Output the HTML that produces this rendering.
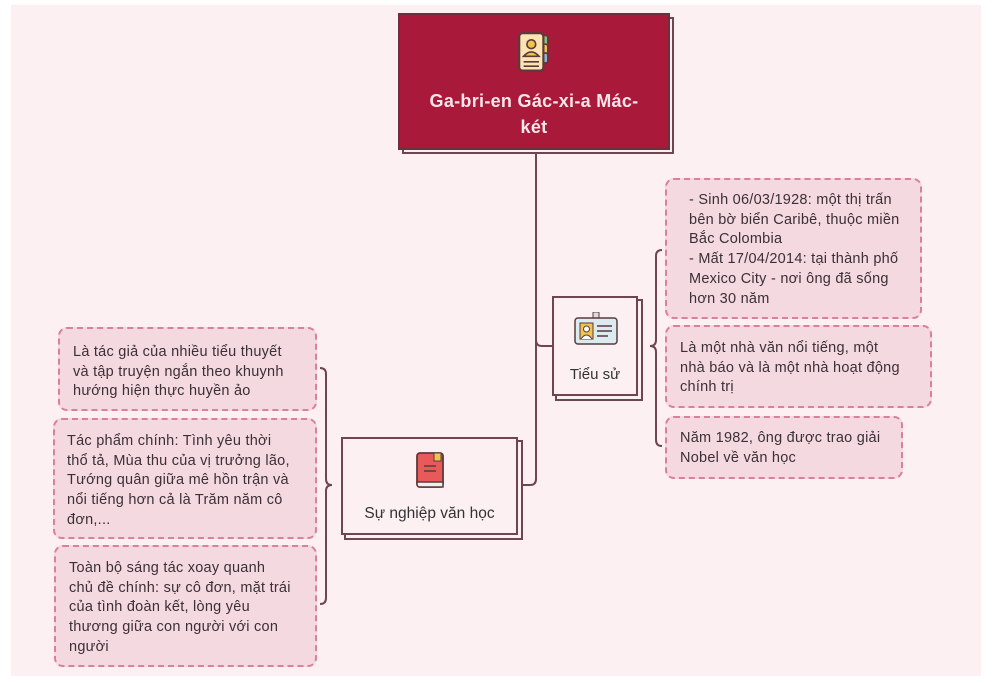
<!DOCTYPE html>
<html><head><meta charset="utf-8"><style>
*{margin:0;padding:0;box-sizing:border-box}
body{width:1002px;height:683px;background:#fff;position:relative;overflow:hidden;font-family:"Liberation Sans",sans-serif}
#bg{position:absolute;left:11px;top:5px;width:970px;height:671px;background:#fcf0f2}
.abs{position:absolute}
.node{position:absolute;background:#fcf0f2;border:2px solid #6e4550;box-shadow:4px 4px 0 -1px #fcf0f2,4px 4px 0 1px #6e4550;text-align:center;color:#333}
.leaf{position:absolute;background:#f5d9e0;border:2px dashed #d9809a;border-radius:9px;color:#3a3035;font-size:14.5px;letter-spacing:0.25px;line-height:19.7px;padding:9px 6px 0 12px;white-space:nowrap}
</style></head><body>
<div id="bg"></div>
<svg class="abs" style="left:0;top:0" width="1002" height="683">
<g fill="none" stroke="#6e4550" stroke-width="2">
<path d="M536 152 V479 Q536 485 530 485 H518"/>
<path d="M536 340 Q536 346 542 346 H552"/>
<path d="M662 250 Q656 250 656 256 V340 Q656 346 650 346 Q656 346 656 352 V440 Q656 446 662 446"/>
<path d="M320 368 Q326 368 326 374 V479 Q326 485 332 485 Q326 485 326 491 V598 Q326 604 320 604"/>
</g></svg>
<div class="abs" style="left:402px;top:17px;width:272px;height:137px;background:#fcf0f2;border:2px solid #6e4550"></div>
<div class="abs" style="left:398px;top:13px;width:272px;height:137px;background:#a8193a;border:2px solid #6e3040;text-align:center;color:#fbe6ea;font-weight:bold;font-size:18px;letter-spacing:0.3px;line-height:26px">
<svg style="position:absolute;left:117px;top:15px" width="44" height="46" viewBox="0 0 40 40"><rect x="20" y="4" width="8" height="9" rx="2" fill="#8cc47a" stroke="#5a3a3a" stroke-width="1.5"/><rect x="20" y="12" width="8" height="9" rx="2" fill="#f1c44e" stroke="#5a3a3a" stroke-width="1.5"/><rect x="20" y="20" width="8" height="9" rx="2" fill="#8fb8d8" stroke="#5a3a3a" stroke-width="1.5"/><rect x="2" y="2" width="22" height="34" rx="3" fill="#fbe3b4" stroke="#5a3a3a" stroke-width="2"/><circle cx="13" cy="12" r="4" fill="#f1c44e" stroke="#5a3a3a" stroke-width="1.5"/><path d="M6 23 Q13 15 20 23 Z" fill="#f1c44e" stroke="#5a3a3a" stroke-width="1.5"/><path d="M6 28 H20 M6 32 H20" stroke="#5a3a3a" stroke-width="1.5"/></svg>
<div style="position:absolute;left:0;right:0;top:73px">Ga-bri-en Gác-xi-a Mác-<br>két</div></div>
<div class="node" style="left:552px;top:296px;width:86px;height:100px">
<svg style="position:absolute;left:20px;top:14px" width="44" height="34"><rect x="19" y="0" width="6" height="7" rx="1" fill="#ddd" stroke="#5a3a3a"/><rect x="1" y="6" width="42" height="26" rx="3" fill="#dcebf0" stroke="#5a3a3a" stroke-width="1.5"/><rect x="6" y="11" width="13" height="16" fill="#f1c44e" stroke="#5a3a3a"/><circle cx="12.5" cy="17" r="3" fill="#fff" stroke="#5a3a3a"/><path d="M7 27 Q12.5 19 18 27" fill="#fff" stroke="#5a3a3a"/><path d="M23 14 H38 M23 19 H38 M23 24 H34" stroke="#5a3a3a" stroke-width="1.5"/></svg>
<div style="position:absolute;left:0;right:0;top:68px;font-size:15px">Tiểu sử</div></div>
<div class="node" style="left:341px;top:437px;width:177px;height:98px">
<svg style="position:absolute;left:72px;top:12px" width="32" height="40"><rect x="2" y="2" width="26" height="34" rx="3" fill="#e85a5a" stroke="#5a3a3a" stroke-width="1.8"/><path d="M2 31 H28 V36 H5 Q2 36 2 33Z" fill="#eee" stroke="#5a3a3a" stroke-width="1.5"/><rect x="19" y="2" width="7" height="8" fill="#f1c44e" stroke="#5a3a3a"/><path d="M9 15 H21 M9 20 H21" stroke="#5a3a3a" stroke-width="1.5"/></svg>
<div style="position:absolute;left:0;right:0;top:66px;font-size:15.5px">Sự nghiệp văn học</div></div>
<div class="leaf" style="left:665px;top:178px;width:257px;height:141px;padding-left:22px;padding-top:11px">- Sinh 06/03/1928: một thị trấn<br>bên bờ biển Caribê, thuộc miền<br>Bắc Colombia<br>- Mất 17/04/2014: tại thành phố<br>Mexico City - nơi ông đã sống<br>hơn 30 năm</div>
<div class="leaf" style="left:665px;top:325px;width:267px;height:83px;padding-top:12px;padding-left:13px">Là một nhà văn nổi tiếng, một<br>nhà báo và là một nhà hoạt động<br>chính trị</div>
<div class="leaf" style="left:665px;top:416px;width:238px;height:63px;padding-top:11px;padding-left:13px">Năm 1982, ông được trao giải<br>Nobel về văn học</div>
<div class="leaf" style="left:58px;top:327px;width:259px;height:84px;padding-top:14px;padding-left:13px">Là tác giả của nhiều tiểu thuyết<br>và tập truyện ngắn theo khuynh<br>hướng hiện thực huyền ảo</div>
<div class="leaf" style="left:53px;top:418px;width:264px;height:121px;padding-top:12px;padding-left:12px">Tác phẩm chính: Tình yêu thời<br>thổ tả, Mùa thu của vị trưởng lão,<br>Tướng quân giữa mê hồn trận và<br>nổi tiếng hơn cả là Trăm năm cô<br>đơn,...</div>
<div class="leaf" style="left:54px;top:545px;width:263px;height:122px;padding-top:12px;padding-left:13px">Toàn bộ sáng tác xoay quanh<br>chủ đề chính: sự cô đơn, mặt trái<br>của tình đoàn kết, lòng yêu<br>thương giữa con người với con<br>người</div>
</body></html>
